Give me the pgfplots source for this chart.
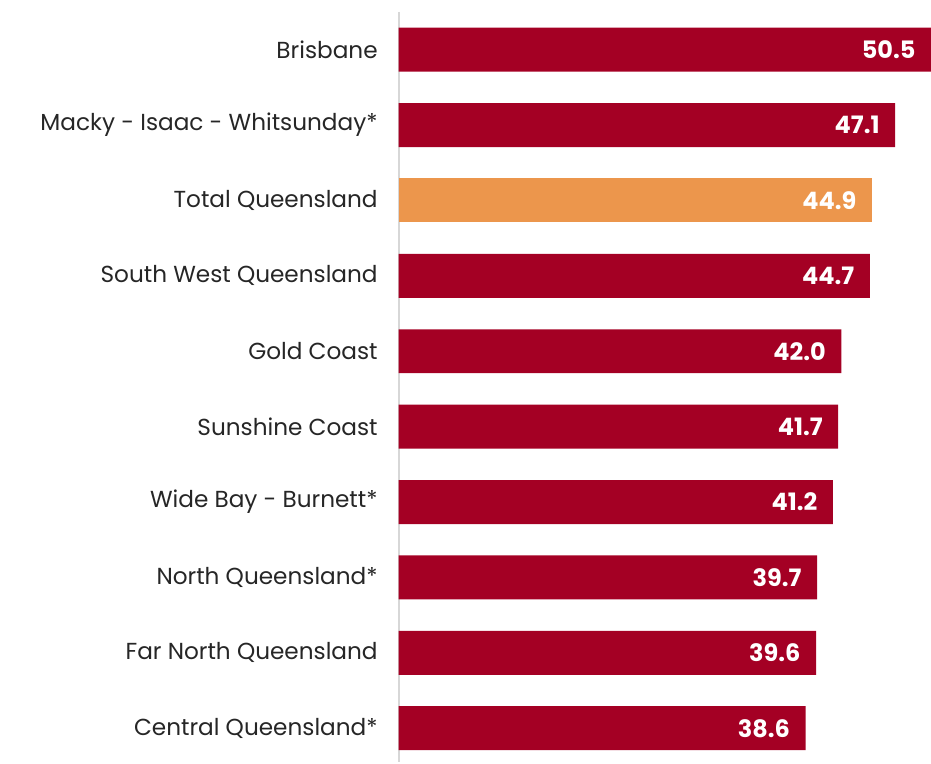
\documentclass[border=0pt]{standalone}
\usepackage{pgfplots}
\pgfplotsset{compat=1.18}
\usepackage{fontspec}
\setmainfont{Poppins}
\definecolor{qred}{RGB}{164,0,36}
\definecolor{qorange}{RGB}{236,150,76}
\definecolor{axgray}{RGB}{215,215,215}
\begin{document}
\begin{tikzpicture}
\begin{axis}[
  scale only axis,
  width=399pt, height=563.25pt,
  xmin=0, xmax=50.4,
  ymin=-0.5, ymax=9.45,
  y dir=reverse,
  axis x line=none,
  axis y line*=left,
  y axis line style={draw=axgray, line width=1.5pt},
  ytick={0,...,9},
  yticklabels={Brisbane,Macky - Isaac - Whitsunday*,Total Queensland,South West Queensland,Gold Coast,Sunshine Coast,Wide Bay - Burnett*,North Queensland*,Far North Queensland,Central Queensland*},
  major tick length=0pt,
  yticklabel style={font=\fontsize{17.4}{20}\selectfont, color=black!85, inner sep=0pt, xshift=-15.5pt},
  xbar, bar width=33pt, bar shift=0pt,
  point meta=x,
  nodes near coords,
  every node near coord/.append style={anchor=east, inner sep=0pt, xshift=-11.5pt, color=white, font=\fontsize{18}{20}\selectfont\bfseries},
  /pgf/number format/.cd, fixed, fixed zerofill, precision=1, assume math mode=true,
  /pgfplots/.cd,
  clip=false,
]
\addplot[draw=none, fill=qred] coordinates {
(50.5,0) (47.1,1) (44.7,3) (42.0,4) (41.7,5) (41.2,6) (39.7,7) (39.6,8) (38.6,9)};
\addplot[draw=none, fill=qorange] coordinates {(44.9,2)};
\path (axis description cs:0,0) ++(-299.25pt,0pt) coordinate (bl);
\path (axis description cs:1,1) ++(0pt,9pt) coordinate (tr);
\end{axis}
\useasboundingbox (bl) rectangle (tr);
\end{tikzpicture}
\end{document}
